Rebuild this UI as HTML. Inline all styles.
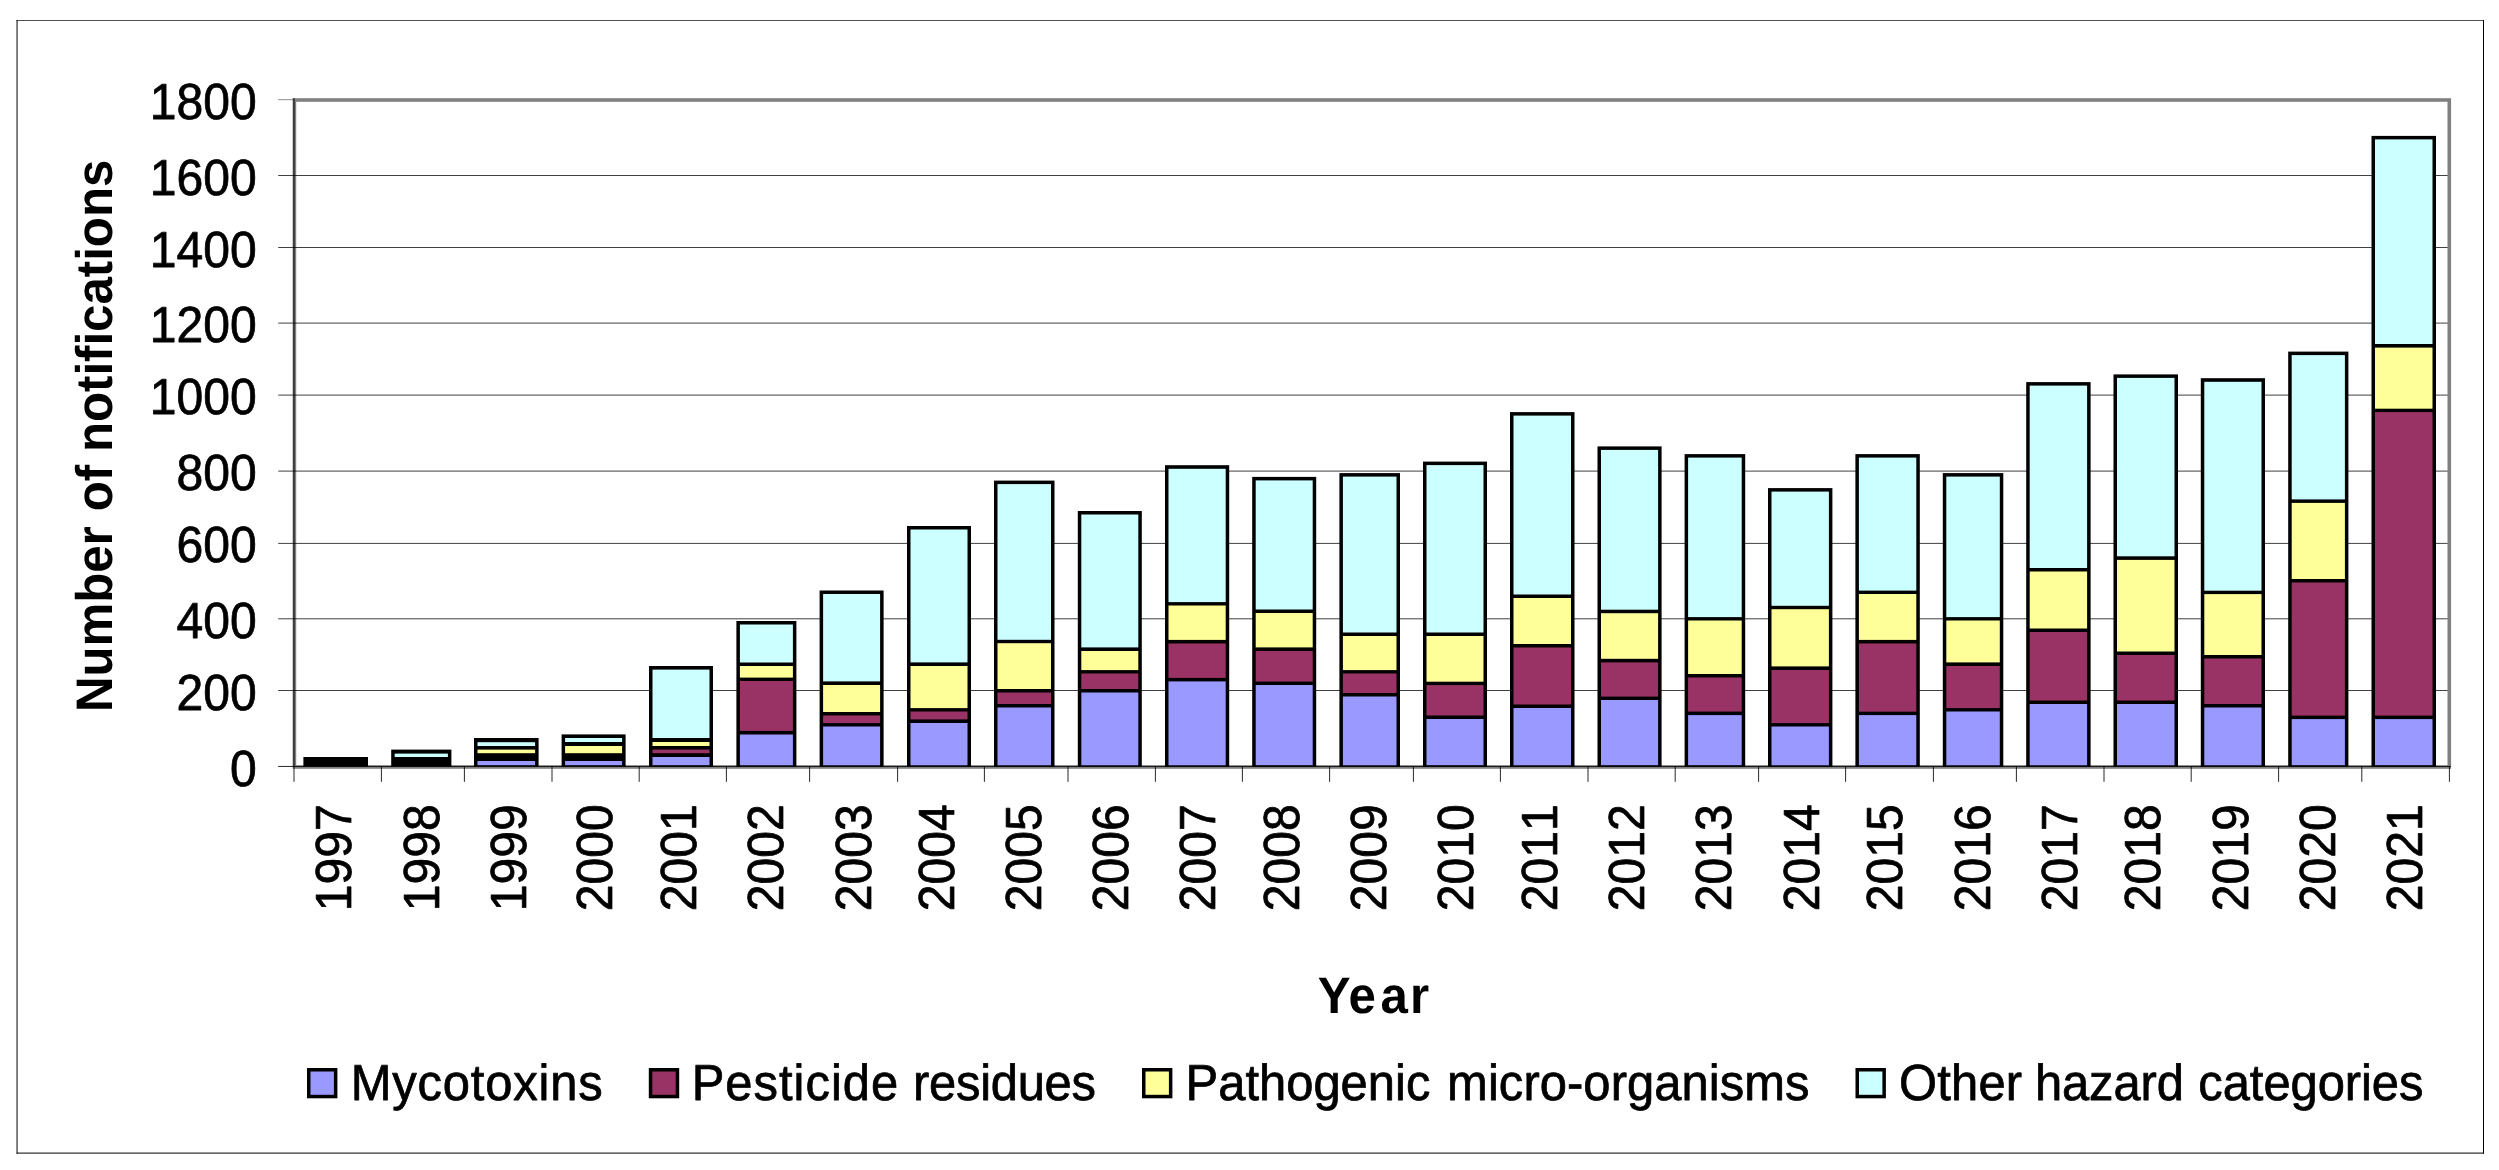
<!DOCTYPE html>
<html lang="en">
<head>
<meta charset="utf-8">
<title>Number of notifications per year by hazard category</title>
<style>
html,body{margin:0;padding:0;background:#fff;}
body{width:2499px;height:1170px;overflow:hidden;}
svg{display:block;}
text{font-family:'Liberation Sans', Arial, Helvetica, sans-serif;fill:#000;font-kerning:none;text-rendering:geometricPrecision;}
.lbl{font-size:50.7px;stroke:#000;stroke-width:0.75px;stroke-linejoin:round;}
.ttl{font-size:51.4px;font-weight:bold;}
</style>
</head>
<body>
<svg width="2499" height="1170" viewBox="0 0 2499 1170">
<rect x="0" y="0" width="2499" height="1170" fill="#ffffff"/>
<g stroke="#000" stroke-width="1">
<line x1="16.55" y1="20.5" x2="2484" y2="20.5" stroke-opacity="0.68"/>
<line x1="17.05" y1="20" x2="17.05" y2="1153.6"/>
<line x1="2483.5" y1="20" x2="2483.5" y2="1153.6"/>
<line x1="16.55" y1="1153.1" x2="2484" y2="1153.1"/>
</g>
<rect x="294.4" y="100" width="2154.9" height="667" fill="none" stroke="#808080" stroke-width="3.6"/>
<g stroke="#000" stroke-width="0.75">
<line x1="278.2" y1="175.50" x2="2447.6" y2="175.50"/>
<line x1="278.2" y1="247.50" x2="2447.6" y2="247.50"/>
<line x1="278.2" y1="323.10" x2="2447.6" y2="323.10"/>
<line x1="278.2" y1="395.10" x2="2447.6" y2="395.10"/>
<line x1="278.2" y1="471.10" x2="2447.6" y2="471.10"/>
<line x1="278.2" y1="543.40" x2="2447.6" y2="543.40"/>
<line x1="278.2" y1="618.80" x2="2447.6" y2="618.80"/>
<line x1="278.2" y1="690.50" x2="2447.6" y2="690.50"/>
<line x1="278.2" y1="99.70" x2="293" y2="99.70" stroke-opacity="0.6"/>
</g>
<g>
<rect x="303.4" y="757.0" width="64.6" height="9.6" fill="#000"/>
<rect x="391.2" y="749.6" width="60.2" height="17.0" fill="#000"/>
<rect x="394.7" y="753.6" width="53.2" height="3.4" fill="#ccffff"/>
<rect x="474.0" y="738.0" width="64.6" height="28.6" fill="#000"/>
<rect x="477.5" y="742.2" width="57.6" height="3.8" fill="#ccffff"/>
<rect x="477.5" y="749.6" width="57.6" height="3.6" fill="#ffff99"/>
<rect x="477.5" y="761.0" width="57.6" height="4.2" fill="#9999ff"/>
<rect x="561.6" y="734.4" width="64.0" height="32.2" fill="#000"/>
<rect x="565.1" y="738.0" width="57.0" height="4.0" fill="#ccffff"/>
<rect x="565.1" y="746.0" width="57.0" height="7.2" fill="#ffff99"/>
<rect x="565.1" y="761.0" width="57.0" height="4.2" fill="#9999ff"/>
<rect x="649.0" y="666.0" width="64.0" height="100.6" fill="#000"/>
<rect x="652.5" y="669.6" width="57.0" height="68.4" fill="#ccffff"/>
<rect x="652.5" y="742.0" width="57.0" height="4.0" fill="#ffff99"/>
<rect x="652.5" y="749.6" width="57.0" height="3.6" fill="#993366"/>
<rect x="652.5" y="757.0" width="57.0" height="8.2" fill="#9999ff"/>
<rect x="736.4" y="621.0" width="60.0" height="145.6" fill="#000"/>
<rect x="739.9" y="624.5" width="53.0" height="38.0" fill="#ccffff"/>
<rect x="739.9" y="666.0" width="53.0" height="11.6" fill="#ffff99"/>
<rect x="739.9" y="681.0" width="53.0" height="49.9" fill="#993366"/>
<rect x="739.9" y="734.5" width="53.0" height="30.8" fill="#9999ff"/>
<rect x="819.6" y="590.5" width="64.0" height="176.1" fill="#000"/>
<rect x="823.1" y="594.0" width="57.0" height="87.4" fill="#ccffff"/>
<rect x="823.1" y="685.0" width="57.0" height="27.0" fill="#ffff99"/>
<rect x="823.1" y="715.5" width="57.0" height="7.6" fill="#993366"/>
<rect x="823.1" y="726.5" width="57.0" height="38.8" fill="#9999ff"/>
<rect x="907.0" y="526.0" width="64.0" height="240.6" fill="#000"/>
<rect x="910.5" y="529.5" width="57.0" height="132.9" fill="#ccffff"/>
<rect x="910.5" y="666.0" width="57.0" height="42.1" fill="#ffff99"/>
<rect x="910.5" y="711.5" width="57.0" height="7.9" fill="#993366"/>
<rect x="910.5" y="723.0" width="57.0" height="42.3" fill="#9999ff"/>
<rect x="994.0" y="480.6" width="60.5" height="286.1" fill="#000"/>
<rect x="997.5" y="484.1" width="53.5" height="155.7" fill="#ccffff"/>
<rect x="997.5" y="643.2" width="53.5" height="45.8" fill="#ffff99"/>
<rect x="997.5" y="692.5" width="53.5" height="11.5" fill="#993366"/>
<rect x="997.5" y="707.5" width="53.5" height="57.8" fill="#9999ff"/>
<rect x="1077.8" y="511.0" width="64.0" height="255.6" fill="#000"/>
<rect x="1081.3" y="514.5" width="57.0" height="132.9" fill="#ccffff"/>
<rect x="1081.3" y="651.0" width="57.0" height="19.1" fill="#ffff99"/>
<rect x="1081.3" y="673.5" width="57.0" height="15.5" fill="#993366"/>
<rect x="1081.3" y="692.5" width="57.0" height="72.8" fill="#9999ff"/>
<rect x="1165.0" y="465.2" width="64.2" height="301.4" fill="#000"/>
<rect x="1168.5" y="468.8" width="57.2" height="133.3" fill="#ccffff"/>
<rect x="1168.5" y="605.5" width="57.2" height="34.4" fill="#ffff99"/>
<rect x="1168.5" y="643.5" width="57.2" height="34.4" fill="#993366"/>
<rect x="1168.5" y="681.4" width="57.2" height="83.9" fill="#9999ff"/>
<rect x="1252.2" y="476.9" width="64.0" height="289.7" fill="#000"/>
<rect x="1255.7" y="480.4" width="57.0" height="129.1" fill="#ccffff"/>
<rect x="1255.7" y="613.0" width="57.0" height="34.4" fill="#ffff99"/>
<rect x="1255.7" y="651.0" width="57.0" height="30.6" fill="#993366"/>
<rect x="1255.7" y="685.0" width="57.0" height="80.2" fill="#9999ff"/>
<rect x="1339.4" y="473.1" width="60.6" height="293.6" fill="#000"/>
<rect x="1342.9" y="476.6" width="53.6" height="155.9" fill="#ccffff"/>
<rect x="1342.9" y="636.0" width="53.6" height="34.1" fill="#ffff99"/>
<rect x="1342.9" y="673.5" width="53.6" height="19.5" fill="#993366"/>
<rect x="1342.9" y="696.5" width="53.6" height="68.8" fill="#9999ff"/>
<rect x="1423.0" y="461.6" width="64.0" height="305.1" fill="#000"/>
<rect x="1426.5" y="465.1" width="57.0" height="167.4" fill="#ccffff"/>
<rect x="1426.5" y="636.0" width="57.0" height="45.7" fill="#ffff99"/>
<rect x="1426.5" y="685.1" width="57.0" height="30.4" fill="#993366"/>
<rect x="1426.5" y="719.0" width="57.0" height="46.2" fill="#9999ff"/>
<rect x="1510.0" y="412.1" width="64.5" height="354.6" fill="#000"/>
<rect x="1513.5" y="415.6" width="57.5" height="178.9" fill="#ccffff"/>
<rect x="1513.5" y="598.0" width="57.5" height="46.0" fill="#ffff99"/>
<rect x="1513.5" y="647.5" width="57.5" height="57.0" fill="#993366"/>
<rect x="1513.5" y="708.0" width="57.5" height="57.3" fill="#9999ff"/>
<rect x="1597.5" y="446.4" width="64.1" height="320.2" fill="#000"/>
<rect x="1601.0" y="449.9" width="57.1" height="159.8" fill="#ccffff"/>
<rect x="1601.0" y="613.2" width="57.1" height="45.6" fill="#ffff99"/>
<rect x="1601.0" y="662.4" width="57.1" height="34.2" fill="#993366"/>
<rect x="1601.0" y="700.0" width="57.1" height="65.2" fill="#9999ff"/>
<rect x="1684.6" y="454.1" width="60.6" height="312.6" fill="#000"/>
<rect x="1688.1" y="457.6" width="53.6" height="159.5" fill="#ccffff"/>
<rect x="1688.1" y="620.5" width="53.6" height="53.5" fill="#ffff99"/>
<rect x="1688.1" y="677.5" width="53.6" height="34.1" fill="#993366"/>
<rect x="1688.1" y="715.1" width="53.6" height="50.1" fill="#9999ff"/>
<rect x="1768.0" y="488.1" width="64.4" height="278.6" fill="#000"/>
<rect x="1771.5" y="491.6" width="57.4" height="114.2" fill="#ccffff"/>
<rect x="1771.5" y="609.2" width="57.4" height="57.2" fill="#ffff99"/>
<rect x="1771.5" y="670.0" width="57.4" height="53.1" fill="#993366"/>
<rect x="1771.5" y="726.5" width="57.4" height="38.8" fill="#9999ff"/>
<rect x="1855.4" y="454.1" width="64.4" height="312.6" fill="#000"/>
<rect x="1858.9" y="457.6" width="57.4" height="133.0" fill="#ccffff"/>
<rect x="1858.9" y="594.0" width="57.4" height="45.9" fill="#ffff99"/>
<rect x="1858.9" y="643.5" width="57.4" height="68.2" fill="#993366"/>
<rect x="1858.9" y="715.1" width="57.4" height="50.1" fill="#9999ff"/>
<rect x="1942.8" y="473.1" width="60.5" height="293.6" fill="#000"/>
<rect x="1946.3" y="476.6" width="53.5" height="140.5" fill="#ccffff"/>
<rect x="1946.3" y="620.5" width="53.5" height="41.9" fill="#ffff99"/>
<rect x="1946.3" y="666.0" width="53.5" height="42.1" fill="#993366"/>
<rect x="1946.3" y="711.5" width="53.5" height="53.8" fill="#9999ff"/>
<rect x="2026.2" y="382.1" width="64.4" height="384.6" fill="#000"/>
<rect x="2029.7" y="385.6" width="57.4" height="182.4" fill="#ccffff"/>
<rect x="2029.7" y="571.5" width="57.4" height="57.0" fill="#ffff99"/>
<rect x="2029.7" y="632.0" width="57.4" height="68.5" fill="#993366"/>
<rect x="2029.7" y="704.0" width="57.4" height="61.3" fill="#9999ff"/>
<rect x="2113.5" y="374.4" width="64.5" height="392.2" fill="#000"/>
<rect x="2117.0" y="377.9" width="57.5" height="178.4" fill="#ccffff"/>
<rect x="2117.0" y="559.9" width="57.5" height="91.6" fill="#ffff99"/>
<rect x="2117.0" y="655.0" width="57.5" height="45.5" fill="#993366"/>
<rect x="2117.0" y="704.0" width="57.5" height="61.3" fill="#9999ff"/>
<rect x="2200.8" y="378.2" width="64.2" height="388.4" fill="#000"/>
<rect x="2204.3" y="381.8" width="57.2" height="208.9" fill="#ccffff"/>
<rect x="2204.3" y="594.1" width="57.2" height="60.9" fill="#ffff99"/>
<rect x="2204.3" y="658.5" width="57.2" height="45.5" fill="#993366"/>
<rect x="2204.3" y="707.5" width="57.2" height="57.8" fill="#9999ff"/>
<rect x="2288.2" y="351.6" width="60.2" height="415.0" fill="#000"/>
<rect x="2291.7" y="355.1" width="53.2" height="144.3" fill="#ccffff"/>
<rect x="2291.7" y="502.9" width="53.2" height="76.1" fill="#ffff99"/>
<rect x="2291.7" y="582.5" width="53.2" height="133.1" fill="#993366"/>
<rect x="2291.7" y="719.1" width="53.2" height="46.1" fill="#9999ff"/>
<rect x="2371.5" y="135.9" width="64.5" height="630.7" fill="#000"/>
<rect x="2375.0" y="139.4" width="57.5" height="204.6" fill="#ccffff"/>
<rect x="2375.0" y="347.6" width="57.5" height="61.1" fill="#ffff99"/>
<rect x="2375.0" y="412.1" width="57.5" height="303.5" fill="#993366"/>
<rect x="2375.0" y="719.1" width="57.5" height="46.1" fill="#9999ff"/>
</g>
<g stroke="#000" stroke-width="0.85">
<line x1="294" y1="98.2" x2="294" y2="767" stroke-width="1"/>
<line x1="278.2" y1="766.45" x2="2451" y2="766.45"/>
<line x1="294.0" y1="766.45" x2="294.0" y2="781.8"/>
<line x1="381.4" y1="766.45" x2="381.4" y2="781.8"/>
<line x1="464.4" y1="766.45" x2="464.4" y2="781.8"/>
<line x1="552.0" y1="766.45" x2="552.0" y2="781.8"/>
<line x1="639.2" y1="766.45" x2="639.2" y2="781.8"/>
<line x1="726.4" y1="766.45" x2="726.4" y2="781.8"/>
<line x1="809.6" y1="766.45" x2="809.6" y2="781.8"/>
<line x1="897.6" y1="766.45" x2="897.6" y2="781.8"/>
<line x1="984.4" y1="766.45" x2="984.4" y2="781.8"/>
<line x1="1068.0" y1="766.45" x2="1068.0" y2="781.8"/>
<line x1="1155.4" y1="766.45" x2="1155.4" y2="781.8"/>
<line x1="1242.4" y1="766.45" x2="1242.4" y2="781.8"/>
<line x1="1329.6" y1="766.45" x2="1329.6" y2="781.8"/>
<line x1="1413.4" y1="766.45" x2="1413.4" y2="781.8"/>
<line x1="1500.4" y1="766.45" x2="1500.4" y2="781.8"/>
<line x1="1588.0" y1="766.45" x2="1588.0" y2="781.8"/>
<line x1="1675.2" y1="766.45" x2="1675.2" y2="781.8"/>
<line x1="1758.6" y1="766.45" x2="1758.6" y2="781.8"/>
<line x1="1845.6" y1="766.45" x2="1845.6" y2="781.8"/>
<line x1="1933.4" y1="766.45" x2="1933.4" y2="781.8"/>
<line x1="2016.4" y1="766.45" x2="2016.4" y2="781.8"/>
<line x1="2104.0" y1="766.45" x2="2104.0" y2="781.8"/>
<line x1="2191.2" y1="766.45" x2="2191.2" y2="781.8"/>
<line x1="2278.6" y1="766.45" x2="2278.6" y2="781.8"/>
<line x1="2361.8" y1="766.45" x2="2361.8" y2="781.8"/>
<line x1="2449.4" y1="766.45" x2="2449.4" y2="781.8"/>
</g>
<g class="lbl" text-anchor="end">
<text transform="translate(256.7 118.7) scale(0.948 1)">1800</text>
<text transform="translate(256.7 194.5) scale(0.948 1)">1600</text>
<text transform="translate(256.7 266.5) scale(0.948 1)">1400</text>
<text transform="translate(256.7 342.1) scale(0.948 1)">1200</text>
<text transform="translate(256.7 414.1) scale(0.948 1)">1000</text>
<text transform="translate(256.7 490.1) scale(0.948 1)">800</text>
<text transform="translate(256.7 562.4) scale(0.948 1)">600</text>
<text transform="translate(256.7 637.8) scale(0.948 1)">400</text>
<text transform="translate(256.7 709.5) scale(0.948 1)">200</text>
<text transform="translate(256.7 785.5) scale(0.948 1)">0</text>
</g>
<g class="lbl" text-anchor="end">
<text transform="translate(351.40 804.3) rotate(-90) scale(0.948 1)">1997</text>
<text transform="translate(438.65 804.3) rotate(-90) scale(0.948 1)">1998</text>
<text transform="translate(525.65 804.3) rotate(-90) scale(0.948 1)">1999</text>
<text transform="translate(612.40 804.3) rotate(-90) scale(0.948 1)">2000</text>
<text transform="translate(695.65 804.3) rotate(-90) scale(0.948 1)">2001</text>
<text transform="translate(783.15 804.3) rotate(-90) scale(0.948 1)">2002</text>
<text transform="translate(870.65 804.3) rotate(-90) scale(0.948 1)">2003</text>
<text transform="translate(953.65 804.3) rotate(-90) scale(0.948 1)">2004</text>
<text transform="translate(1040.65 804.3) rotate(-90) scale(0.948 1)">2005</text>
<text transform="translate(1128.15 804.3) rotate(-90) scale(0.948 1)">2006</text>
<text transform="translate(1215.15 804.3) rotate(-90) scale(0.948 1)">2007</text>
<text transform="translate(1298.90 804.3) rotate(-90) scale(0.948 1)">2008</text>
<text transform="translate(1385.65 804.3) rotate(-90) scale(0.948 1)">2009</text>
<text transform="translate(1473.15 804.3) rotate(-90) scale(0.948 1)">2010</text>
<text transform="translate(1556.90 804.3) rotate(-90) scale(0.948 1)">2011</text>
<text transform="translate(1644.40 804.3) rotate(-90) scale(0.948 1)">2012</text>
<text transform="translate(1731.40 804.3) rotate(-90) scale(0.948 1)">2013</text>
<text transform="translate(1818.90 804.3) rotate(-90) scale(0.948 1)">2014</text>
<text transform="translate(1902.00 804.3) rotate(-90) scale(0.948 1)">2015</text>
<text transform="translate(1989.50 804.3) rotate(-90) scale(0.948 1)">2016</text>
<text transform="translate(2076.65 804.3) rotate(-90) scale(0.948 1)">2017</text>
<text transform="translate(2160.15 804.3) rotate(-90) scale(0.948 1)">2018</text>
<text transform="translate(2247.65 804.3) rotate(-90) scale(0.948 1)">2019</text>
<text transform="translate(2334.65 804.3) rotate(-90) scale(0.948 1)">2020</text>
<text transform="translate(2421.65 804.3) rotate(-90) scale(0.948 1)">2021</text>
</g>
<text class="ttl" transform="translate(112.2 709.2) rotate(-90) scale(0.957 1)"><tspan x="-3">Number</tspan> <tspan x="206.8">of</tspan> <tspan x="268.7">notifications</tspan></text>
<text class="ttl" transform="translate(0 1012.7) scale(0.957 1)" x="1377.0 1409.1 1442.5 1473.4">Year</text>
<g>
<rect x="308.75" y="1069.75" width="26.90" height="26.80" fill="#9999ff" stroke="#000" stroke-width="3.5"/>
<text class="lbl" transform="translate(0 1099.6) scale(0.965 1)"><tspan x="363.4" letter-spacing="0.85">Mycotoxins</tspan></text>
<rect x="650.55" y="1069.75" width="26.90" height="26.80" fill="#993366" stroke="#000" stroke-width="3.5"/>
<text class="lbl" transform="translate(0 1099.6) scale(0.965 1)"><tspan x="716.8" letter-spacing="1.04">Pesticide</tspan> <tspan x="946.2" letter-spacing="-0.3">residues</tspan></text>
<rect x="1143.75" y="1069.75" width="26.90" height="26.80" fill="#ffff99" stroke="#000" stroke-width="3.5"/>
<text class="lbl" transform="translate(0 1099.6) scale(0.965 1)"><tspan x="1228.6">Pathogenic</tspan> <tspan x="1499.6" letter-spacing="0.07">micro-organisms</tspan></text>
<rect x="1857.25" y="1069.75" width="26.90" height="26.80" fill="#ccffff" stroke="#000" stroke-width="3.5"/>
<text class="lbl" transform="translate(0 1099.6) scale(0.965 1)"><tspan x="1967.9" letter-spacing="0.2">Other</tspan> <tspan x="2108.7" letter-spacing="-0.1">hazard</tspan> <tspan x="2278.1" letter-spacing="-0.08">categories</tspan></text>
</g>
</svg>
</body>
</html>
